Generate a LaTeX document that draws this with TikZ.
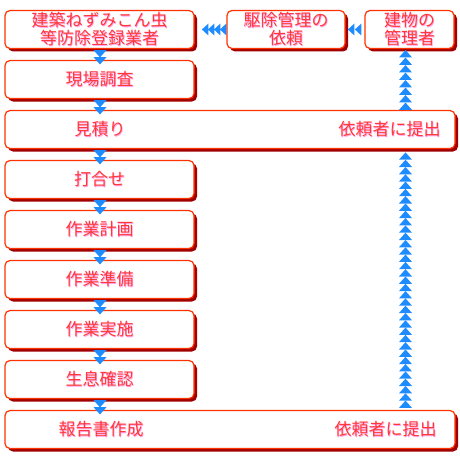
\documentclass[tikz,border=0pt]{standalone}
\usepackage{fontspec}
\newfontfamily\jp{Noto Sans CJK JP}
\usetikzlibrary{decorations.markings,shadows}
\definecolor{bred}{HTML}{FF3300}
\definecolor{sred}{HTML}{A00000}
\definecolor{tred}{HTML}{FF3838}
\definecolor{glowpink}{HTML}{FFA8F0}
\definecolor{ablue}{HTML}{1E8CFF}
\newcommand\glw[1]{\makebox[0pt][l]{\kern0.9pt\raisebox{-0.9pt}{\textcolor{glowpink}{#1}}}\textcolor{tred}{#1}}
\newcommand\trih{\fill[ablue] (0,-6) -- (6.5,0) -- (0,6) -- cycle;}
\newcommand\triv{\fill[ablue] (0,-6.5) -- (7.3,0) -- (0,6.5) -- cycle;}
\tikzset{
  flowbox/.style={draw=bred, line width=1.2pt, fill=white, rounded corners=5pt,
    minimum height=38pt, inner sep=0pt, font=\jp\fontsize{17}{18}\selectfont, align=center,
    general shadow={fill=sred, shadow xshift=3pt, shadow yshift=-3pt}},
  lbl/.style={font=\jp\fontsize{17}{18}\selectfont, align=center, inner sep=0pt},
  dnarr/.style={decorate, decoration={markings,
    mark=at position 1pt with {\triv}, mark=at position 8pt with {\triv}}},
  lfarr/.style={decorate, decoration={markings,
    mark=between positions 0pt and 19pt step 6pt with {\trih}}},
  lfarrb/.style={decorate, decoration={markings,
    mark=at position 3pt with {\trih}, mark=at position 10pt with {\trih}}},
  uparr/.style={decorate, decoration={markings,
    mark=between positions 0pt and 53pt step 7.5pt with {\triv}}},
  uparrb/.style={decorate, decoration={markings,
    mark=between positions 2pt and 252pt step 7.3pt with {\triv}}},
}
\begin{document}
\begin{tikzpicture}[x=1pt,y=-1pt]
\useasboundingbox[fill=white] (0,0) rectangle (460,460);
% boxes
\node[flowbox, minimum width=189pt] (b1) at (99.5,29.5) {\glw{建築ねずみこん虫}\\\glw{等防除登録業者}};
\node[flowbox, minimum width=118pt] (b2) at (286,29.5) {\glw{駆除管理の}\\\glw{依頼}};
\node[flowbox, minimum width=89pt] (b3) at (409.5,29.5) {\glw{建物の}\\\glw{管理者}};
\node[flowbox, minimum width=189pt] (gen) at (99.5,79.5) {\glw{現場調査}};
\node[flowbox, minimum width=450pt] (mit) at (230,129.5) {};
\node[flowbox, minimum width=189pt] (uch) at (99.5,179.5) {\glw{打合せ}};
\node[flowbox, minimum width=189pt] (kei) at (99.5,229.5) {\glw{作業計画}};
\node[flowbox, minimum width=189pt] (jun) at (99.5,279.5) {\glw{作業準備}};
\node[flowbox, minimum width=189pt] (jis) at (99.5,329.5) {\glw{作業実施}};
\node[flowbox, minimum width=189pt] (sei) at (99.5,379.5) {\glw{生息確認}};
\node[flowbox, minimum width=450pt] (hok) at (230,429.5) {};
% labels in wide boxes
\node[lbl] (mitL) at (100,129.5) {\glw{見積り}};
\node[lbl] (mitR) at (389.5,129.5) {\glw{依頼者に提出}};
\node[lbl] (hokL) at (101,429.5) {\glw{報告書作成}};
\node[lbl] (hokR) at (385.5,429.5) {\glw{依頼者に提出}};
% connectors
\coordinate (dx) at (100,0);
\coordinate (colx) at (405.5,0);
\path[dnarr] (b1.south -| dx) -- (gen.north -| dx);
\path[dnarr] (gen.south -| dx) -- (mit.north -| dx);
\path[dnarr] (mit.south -| dx) -- (uch.north -| dx);
\path[dnarr] (uch.south -| dx) -- (kei.north -| dx);
\path[dnarr] (kei.south -| dx) -- (jun.north -| dx);
\path[dnarr] (jun.south -| dx) -- (jis.north -| dx);
\path[dnarr] (jis.south -| dx) -- (sei.north -| dx);
\path[dnarr] (sei.south -| dx) -- (hok.north -| dx);
\path[lfarr] (b2.west) -- (b1.east);
\path[lfarrb] (b3.west) -- (b2.east);
\path[uparr] (mit.north -| colx) -- (b3.south -| colx);
\path[uparrb] (hok.north -| colx) -- (mit.south -| colx);
\end{tikzpicture}
\end{document}
